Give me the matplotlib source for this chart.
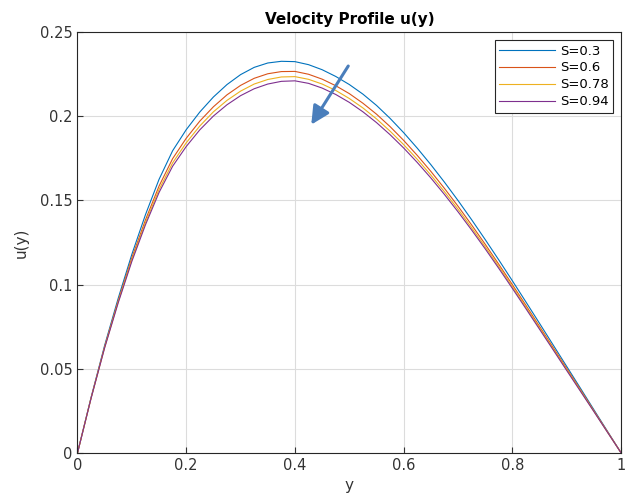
import matplotlib
matplotlib.use('agg')
import matplotlib.pyplot as plt
import numpy as np

# y positions, step 0.025 from 0 to 1
y = np.linspace(0, 1, 41)

u_s03 = [0, 0.033, 0.064, 0.092, 0.118, 0.1415, 0.1625, 0.1795, 0.1920, 0.2025,
         0.2114, 0.2188, 0.2247, 0.2290, 0.2316, 0.2326, 0.2324, 0.2306, 0.2276, 0.2236,
         0.2188, 0.2131, 0.2064, 0.1987, 0.1902, 0.1810, 0.1712, 0.1608, 0.1499, 0.1385,
         0.1267, 0.1146, 0.1022, 0.0896, 0.0769, 0.0641, 0.0513, 0.0385, 0.0256, 0.0128, 0]
u_s06 = [0, 0.0327, 0.0632, 0.0906, 0.1159, 0.1384, 0.1585, 0.1748, 0.1869, 0.1971,
         0.2056, 0.2127, 0.2183, 0.2225, 0.2252, 0.2265, 0.2266, 0.2249, 0.2220, 0.2181,
         0.2134, 0.2077, 0.2012, 0.1938, 0.1856, 0.1767, 0.1672, 0.1571, 0.1465, 0.1354,
         0.1239, 0.1120, 0.0999, 0.0876, 0.0751, 0.0626, 0.0501, 0.0376, 0.0250, 0.0125, 0]
u_s078 = [0, 0.0326, 0.0628, 0.0899, 0.1147, 0.1368, 0.1564, 0.1723, 0.1842, 0.1942,
          0.2026, 0.2094, 0.2149, 0.2191, 0.2218, 0.2233, 0.2235, 0.2219, 0.2191, 0.2153,
          0.2105, 0.2049, 0.1984, 0.1911, 0.1831, 0.1744, 0.1650, 0.1551, 0.1447, 0.1337,
          0.1224, 0.1107, 0.0987, 0.0865, 0.0742, 0.0618, 0.0494, 0.0371, 0.0247, 0.0123, 0]
u_s094 = [0, 0.0325, 0.0625, 0.0893, 0.1138, 0.1355, 0.1547, 0.1703, 0.1820, 0.1919,
          0.2001, 0.2068, 0.2122, 0.2163, 0.2191, 0.2207, 0.2210, 0.2195, 0.2167, 0.2129,
          0.2082, 0.2026, 0.1962, 0.1890, 0.1811, 0.1725, 0.1633, 0.1535, 0.1432, 0.1324,
          0.1212, 0.1096, 0.0977, 0.0856, 0.0734, 0.0612, 0.0489, 0.0367, 0.0245, 0.0122, 0]
labels = ['S=0.3', 'S=0.6', 'S=0.78', 'S=0.94']
colors = ['#0072BD', '#D95319', '#EDB120', '#7E2F8E']

fig = plt.figure(figsize=(6.3, 5.0), dpi=100)
ax = fig.add_axes([0.123, 0.094, 0.863, 0.842])

for u, lab, c in zip([u_s03, u_s06, u_s078, u_s094], labels, colors):
    ax.plot(y, u, color=c, lw=0.8, label=lab)

# arrow showing decreasing velocity with S
ax.annotate('', xy=(0.43, 0.195), xytext=(0.498, 0.2298),
            arrowprops=dict(arrowstyle='-|>,head_length=1.1,head_width=0.55',
                            color='#4a7ebb', lw=2.2, shrinkA=0, shrinkB=0))

ax.set_xlim(0, 1)
ax.set_ylim(0, 0.25)
ax.set_xticks([0, 0.2, 0.4, 0.6, 0.8, 1])
ax.set_xticklabels(['0', '0.2', '0.4', '0.6', '0.8', '1'])
ax.set_yticks([0, 0.05, 0.1, 0.15, 0.2, 0.25])
ax.set_yticklabels(['0', '0.05', '0.1', '0.15', '0.2', '0.25'])
ax.grid(True, color='#dcdcdc', lw=0.8)
ax.set_axisbelow(True)
ax.tick_params(direction='in', length=4, colors='#333333', labelsize=10.5, top=False, right=False)
for sp in ax.spines.values():
    sp.set_color('#262626')
    sp.set_linewidth(0.8)

ax.set_title('Velocity Profile u(y)', fontsize=11, fontweight='bold', pad=6)
ax.set_xlabel('y', fontsize=11, color='#333333', labelpad=4)
ax.set_ylabel('u(y)', fontsize=11, color='#333333', labelpad=8)

leg = ax.legend(loc='upper right', fontsize=9.5, fancybox=False, framealpha=1,
                edgecolor='#262626', borderpad=0.35, labelspacing=0.3,
                handlelength=4.2, handletextpad=0.4, borderaxespad=0.6)
leg.get_frame().set_linewidth(0.8)

fig.savefig('out.png', dpi=100)
